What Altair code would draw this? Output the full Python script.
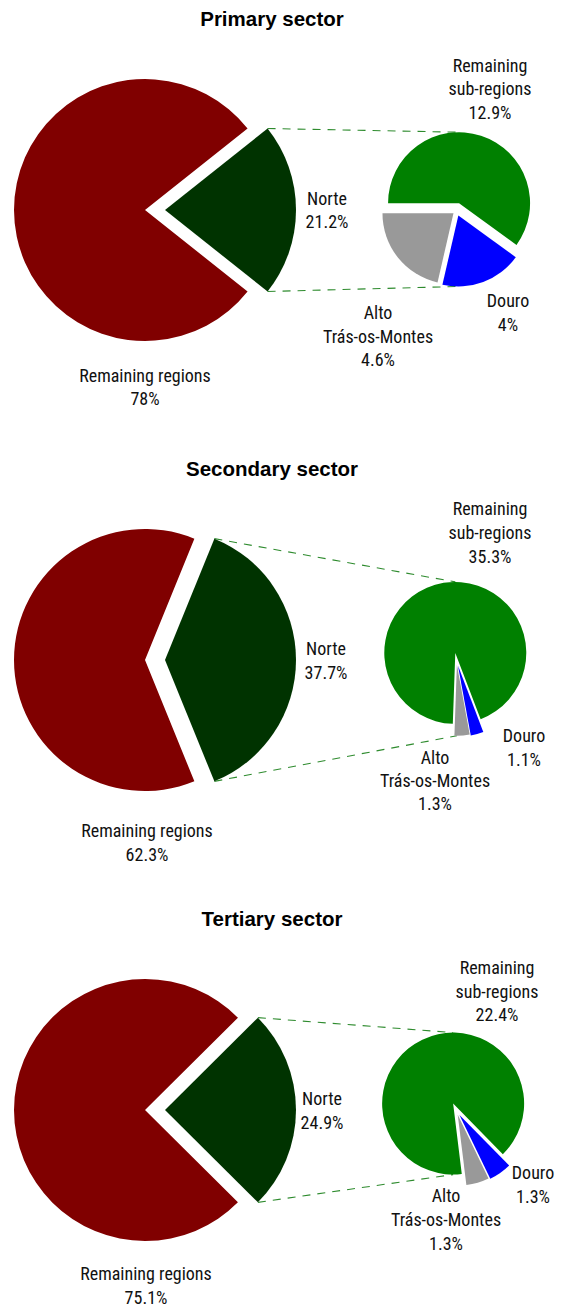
import math
import altair as alt
import pandas as pd

# ---------------- data ----------------
SECTORS = ["Primary sector", "Secondary sector", "Tertiary sector"]
REMAINING_REGIONS = [78.0, 62.3, 75.1]
NORTE = [21.2, 37.7, 24.9]
REMAINING_SUBREGIONS = [12.9, 35.3, 22.4]
DOURO = [4.0, 1.1, 1.3]
ALTO_TRAS_OS_MONTES = [4.6, 1.3, 1.3]

BIG_NAMES = ["Norte", "Remaining regions"]
SMALL_NAMES = ["Remaining sub-regions", "Douro", "Alto Trás-os-Montes"]
LABEL_LINES = {
    "Remaining regions": ["Remaining regions"],
    "Norte": ["Norte"],
    "Remaining sub-regions": ["Remaining", "sub-regions"],
    "Douro": ["Douro"],
    "Alto Trás-os-Montes": ["Alto", "Trás-os-Montes"],
}

# ---------------- styling / layout ----------------
COLOR_DOMAIN = ["Remaining regions", "Norte", "Remaining sub-regions", "Douro", "Alto Trás-os-Montes"]
COLOR_RANGE = ["#800000", "#003300", "#008000", "#0000ff", "#999999"]
LINE_COLOR = "#2e8b2e"
LABEL_FONT = "Liberation Sans Narrow, Roboto Condensed, DejaVu Sans Condensed, sans-serif"
TITLE_FONT = "Liberation Sans, Arial, sans-serif"

W = 548
H = 450                      # one panel per 450 px of page
TITLE_POS = (272, 18)
BIG_C = (145.0, 210.0)
BIG_R = 131
BIG_EXPLODE = [20, 0]
SMALL_C = (456.6, 210.8)
SMALL_R = 71
SMALL_EXPLODE = [8, 5, 4]
SMALL_START_DEG = [270, 182, 173]

LABEL_POS = [
    {"Remaining sub-regions": (490, [65, 88, 112]), "Norte": (327, [198, 221]),
     "Remaining regions": (145, [375, 398]), "Douro": (508, [300, 324]),
     "Alto Trás-os-Montes": (378, [312, 336, 359])},
    {"Remaining sub-regions": (490, [58, 82, 106]), "Norte": (326, [198, 222]),
     "Remaining regions": (147, [380, 404]), "Douro": (524, [285, 309]),
     "Alto Trás-os-Montes": (435, [307, 330, 353])},
    {"Remaining sub-regions": (497, [67, 91, 114]), "Norte": (322, [198, 222]),
     "Remaining regions": (146, [373, 397]), "Douro": (533, [272, 296]),
     "Alto Trás-os-Montes": (446, [295, 319, 343])},
]

# page-pixel-like coordinate system for each panel (x: page x, y: page y within the panel)
XS = alt.Scale(domain=[8, 8 + W], nice=False, zero=False)
YS = alt.Scale(domain=[8 + H, 8], nice=False, zero=False)
COLOR = alt.Scale(domain=COLOR_DOMAIN, range=COLOR_RANGE)


def pie_frame(names, values, start_deg, center, explode):
    total = sum(values)
    rows, cum = [], 0.0
    for i, (n, v) in enumerate(zip(names, values)):
        mid = math.radians(start_deg + 360.0 * (cum + v / 2) / total)
        rows.append({
            "name": n, "value": v, "c0": cum, "c1": cum + v, "order": i,
            "px": center[0] + explode[i] * math.sin(mid),
            "py": center[1] - explode[i] * math.cos(mid),
        })
        cum += v
    return pd.DataFrame(rows), total


def pie_layer(df, total, start_deg, radius):
    s = math.radians(start_deg)
    return alt.Chart(df).mark_arc(radius=radius).encode(
        x=alt.X("px:Q", scale=XS, axis=None),
        y=alt.Y("py:Q", scale=YS, axis=None),
        theta=alt.Theta("c0:Q", scale=alt.Scale(domain=[0, total], range=[s, s + 2 * math.pi]), stack=None),
        theta2="c1:Q",
        color=alt.Color("name:N", scale=COLOR, legend=None),
        order=alt.Order("order:Q"),
    )


panels = []
for k in range(3):
    big_vals = [NORTE[k], REMAINING_REGIONS[k]]
    f = big_vals[0] / sum(big_vals)
    big_start = 90 - 180 * f
    big_df, big_total = pie_frame(BIG_NAMES, big_vals, big_start, BIG_C, BIG_EXPLODE)

    small_vals = [REMAINING_SUBREGIONS[k], DOURO[k], ALTO_TRAS_OS_MONTES[k]]
    st = SMALL_START_DEG[k]
    small_df, small_total = pie_frame(SMALL_NAMES, small_vals, st, SMALL_C, SMALL_EXPLODE)

    # connector lines: Norte wedge corners -> top / bottom of the small pie
    ncx = BIG_C[0] + BIG_EXPLODE[0]
    a_top, a_bot = math.radians(90 - 180 * f), math.radians(90 + 180 * f)

    def wedge_at(angle_deg):
        rel = ((angle_deg - st) % 360) / 360 * small_total
        for _, r in small_df.iterrows():
            if r["c0"] <= rel <= r["c1"]:
                return r
        return small_df.iloc[0]

    wt, wb = wedge_at(0), wedge_at(176)
    lines = pd.DataFrame([
        {"x": ncx + BIG_R * math.sin(a_top), "y": BIG_C[1] - BIG_R * math.cos(a_top),
         "x2": wt["px"], "y2": wt["py"] - SMALL_R},
        {"x": ncx + BIG_R * math.sin(a_bot), "y": BIG_C[1] - BIG_R * math.cos(a_bot),
         "x2": wb["px"], "y2": wb["py"] + SMALL_R},
    ])

    # labels
    lab_rows = []
    values_by_name = dict(zip(BIG_NAMES, big_vals)) | dict(zip(SMALL_NAMES, small_vals))
    for name, (lx, ys) in LABEL_POS[k].items():
        texts = LABEL_LINES[name] + [f"{values_by_name[name]:g}%"]
        for t, yy in zip(texts, ys):
            lab_rows.append({"text": t, "lx": lx, "ly": yy})
    labels = pd.DataFrame(lab_rows)
    title_df = pd.DataFrame([{"text": SECTORS[k], "lx": TITLE_POS[0], "ly": TITLE_POS[1]}])

    big = pie_layer(big_df, big_total, big_start, BIG_R)
    small = pie_layer(small_df, small_total, st, SMALL_R)
    conn = alt.Chart(lines).mark_rule(color=LINE_COLOR, strokeWidth=1.1, strokeDash=[8, 7]).encode(
        x=alt.X("x:Q", scale=XS, axis=None), y=alt.Y("y:Q", scale=YS, axis=None),
        x2="x2:Q", y2="y2:Q")
    txt = alt.Chart(labels).mark_text(font=LABEL_FONT, fontSize=18, color="#111111", dy=2,
                                      align="center", baseline="middle", clip=True).encode(
        x=alt.X("lx:Q", scale=XS, axis=None), y=alt.Y("ly:Q", scale=YS, axis=None), text="text:N")
    ttl = alt.Chart(title_df).mark_text(font=TITLE_FONT, fontSize=20.5, fontWeight="bold", dy=2,
                                        color="black", align="center", baseline="middle").encode(
        x=alt.X("lx:Q", scale=XS, axis=None), y=alt.Y("ly:Q", scale=YS, axis=None), text="text:N")

    panel = alt.layer(conn, big, small, txt, ttl).resolve_scale(theta="independent").properties(
        width=W, height=H)
    panels.append(panel)

chart = alt.vconcat(*panels, spacing=0).configure_view(stroke=None).properties(
    background="white", padding=0)

chart.save("out.html", embed_options={"renderer": "svg", "actions": False})
